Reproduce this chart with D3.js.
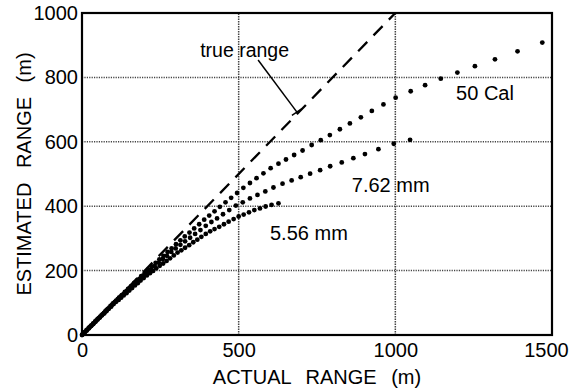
<!DOCTYPE html>
<html>
  <head>
    <meta charset="UTF-8" />
    <title>Estimated vs actual range</title>
    <script src="https://cdn.jsdelivr.net/npm/d3@7/dist/d3.min.js"></script>
    <style>
      body { margin: 0; background: #fff; }
      text { font-family: "Liberation Sans", Arial, sans-serif; fill: #000; }
    </style>
  </head>
  <body>
    <svg width="570" height="389"></svg>
    <script>
      // tick labels
      var xTicks = [0, 500, 1000, 1500];
      var yTicks = [0, 200, 400, 600, 800, 1000];
      var xGrid = [500, 1000];
      var yGrid = [200, 400, 600, 800];

      // true range line (actual = estimated)
      var trueX = [0, 1000];
      var trueY = [0, 1000];

      // 50 Cal dots
      var cal50X = [0, 7, 14, 21, 28, 35, 42, 50, 58, 66, 74, 82, 91, 100, 109, 118, 127, 137, 147, 157, 167, 178, 189, 200,
        211, 223, 235, 247, 260, 273, 286, 300, 314, 328, 343, 358, 374, 390, 406, 423, 440, 458, 476, 495,
        515, 536, 557, 579, 602, 627, 651, 677, 704, 733, 762, 791, 823, 855, 890, 925, 962, 1001,
        1049, 1095, 1145, 1198, 1254, 1318, 1390, 1469];
      var cal50Y = [0, 7, 14, 21, 28, 35, 42, 50, 57, 65, 73, 81, 90, 99, 107, 116, 124, 134, 143, 152, 162, 172, 183, 193,
        203, 213, 224, 235, 246, 258, 269, 282, 294, 306, 318, 331, 344, 358, 371, 384, 398, 412, 426, 441,
        457, 472, 487, 502, 518, 532, 545, 559, 573, 590, 605, 621, 639, 657, 676, 696, 716, 737,
        757, 776, 796, 815, 835, 856, 881, 908];

      // 7.62 mm dots
      var mm762X = [3, 10, 17, 24, 31, 38, 46, 54, 62, 70, 78, 87, 96, 105, 114, 123, 133, 143, 153, 163, 174, 185, 196,
        208, 220, 232, 245, 258, 271, 285, 299, 314, 329, 345, 361, 378, 395, 413, 431, 450, 470, 491,
        513, 536, 560, 585, 611, 640, 669, 698, 728, 760, 792, 829, 866, 903, 946, 995, 1047];
      var mm762Y = [3, 10, 17, 24, 30, 37, 45, 53, 61, 69, 77, 85, 94, 103, 111, 119, 128, 137, 146, 155, 165, 175, 185,
        195, 204, 214, 225, 236, 246, 258, 269, 280, 291, 302, 314, 326, 339, 351, 362, 375, 388, 402,
        412, 424, 435, 446, 458, 470, 480, 490, 501, 512, 524, 536, 549, 562, 577, 594, 606];

      // 5.56 mm dots
      var mm556X = [1, 8, 15, 22, 29, 36, 43, 50, 57, 64, 71, 78, 85, 93, 101, 109, 117, 125, 133, 142, 151, 160, 169, 178,
        187, 197, 207, 217, 227, 237, 248, 259, 270, 281, 293, 305, 317, 329, 342, 355, 368, 381, 395,
        409, 423, 438, 453, 468, 484, 500, 516, 533, 550, 568, 586, 605, 627];
      var mm556Y = [1, 8, 14, 21, 28, 34, 41, 48, 54, 61, 67, 74, 81, 88, 96, 103, 109, 116, 123, 130, 138, 146, 154, 161,
        169, 177, 185, 192, 199, 207, 215, 222, 230, 238, 247, 256, 263, 271, 279, 288, 296, 305, 314,
        322, 329, 336, 344, 352, 360, 368, 374, 381, 388, 393, 399, 404, 409];

      var svg = d3.select("svg");
      var x = d3.scaleLinear().domain([0, 1500]).range([82, 552]);
      var y = d3.scaleLinear().domain([0, 1000]).range([335, 13]);

      // grid
      svg.append("g")
        .selectAll("line")
        .data(yGrid)
        .enter()
        .append("line")
        .attr("x1", x(0))
        .attr("x2", x(1500))
        .attr("y1", function (d) { return y(d); })
        .attr("y2", function (d) { return y(d); })
        .attr("stroke", "#444")
        .attr("stroke-width", 1.5)
        .attr("stroke-dasharray", "1.2,1.2");

      svg.append("g")
        .selectAll("line")
        .data(xGrid)
        .enter()
        .append("line")
        .attr("y1", y(0))
        .attr("y2", y(1000))
        .attr("x1", function (d) { return x(d); })
        .attr("x2", function (d) { return x(d); })
        .attr("stroke", "#444")
        .attr("stroke-width", 1.5)
        .attr("stroke-dasharray", "1.5,1");

      // true range dashed line
      svg.append("path")
        .datum(d3.zip(trueX, trueY))
        .attr("fill", "none")
        .attr("stroke", "#000")
        .attr("stroke-width", 2.3)
        .attr("stroke-dasharray", "13,9")
        .attr("d", d3.line().x(function (d) { return x(d[0]); }).y(function (d) { return y(d[1]); }));

      // dotted series
      [[cal50X, cal50Y], [mm762X, mm762Y], [mm556X, mm556Y]].forEach(function (s) {
        svg.append("g")
          .selectAll("circle")
          .data(d3.zip(s[0], s[1]))
          .enter()
          .append("circle")
          .attr("cx", function (d) { return x(d[0]); })
          .attr("cy", function (d) { return y(d[1]); })
          .attr("r", 2.4)
          .attr("fill", "#000");
      });

      // frame
      svg.append("rect")
        .attr("x", x(0))
        .attr("y", y(1000))
        .attr("width", x(1500) - x(0))
        .attr("height", y(0) - y(1000))
        .attr("fill", "none")
        .attr("stroke", "#000")
        .attr("stroke-width", 2.2);

      // axes
      var xAxis = svg.append("g")
        .attr("transform", "translate(0," + y(0) + ")")
        .call(d3.axisBottom(x).tickValues(xTicks).tickSize(0).tickPadding(8).tickFormat(d3.format("d")));
      var yAxis = svg.append("g")
        .attr("transform", "translate(" + x(0) + ",0)")
        .call(d3.axisLeft(y).tickValues(yTicks).tickSize(0).tickPadding(4).tickFormat(d3.format("d")));
      [xAxis, yAxis].forEach(function (a) {
        a.select(".domain").remove();
        a.selectAll("text")
          .attr("font-size", 20)
          .attr("font-family", "Liberation Sans, Arial, sans-serif")
          .attr("fill", "#000");
      });
      // keep the last x label inside the window
      xAxis.selectAll(".tick text").filter(function (d) { return d === 1500; }).attr("dx", -6);

      svg.append("text")
        .attr("x", (x(0) + x(1500)) / 2)
        .attr("y", 384)
        .attr("text-anchor", "middle")
        .attr("font-size", 20)
        .attr("word-spacing", 9)
        .text("ACTUAL RANGE (m)");

      svg.append("text")
        .attr("transform", "translate(31," + (y(0) + y(1000)) / 2 + ") rotate(-90)")
        .attr("text-anchor", "middle")
        .attr("font-size", 20)
        .attr("word-spacing", 9)
        .text("ESTIMATED RANGE (m)");

      // annotations
      svg.append("text").attr("x", x(377)).attr("y", y(863)).attr("font-size", 19.5).text("true range");
      svg.append("line")
        .attr("x1", x(562)).attr("y1", y(854))
        .attr("x2", x(686)).attr("y2", y(692))
        .attr("stroke", "#000").attr("stroke-width", 1.5);
      svg.append("line")
        .attr("x1", x(670)).attr("y1", y(682))
        .attr("x2", x(702)).attr("y2", y(703))
        .attr("stroke", "#000").attr("stroke-width", 1.5);
      svg.append("text").attr("x", x(1194)).attr("y", y(730)).attr("font-size", 20).text("50 Cal");
      svg.append("text").attr("x", x(861)).attr("y", y(445)).attr("font-size", 20).text("7.62 mm");
      svg.append("text").attr("x", x(600)).attr("y", y(295)).attr("font-size", 20).text("5.56 mm");
    </script>
  </body>
</html>
